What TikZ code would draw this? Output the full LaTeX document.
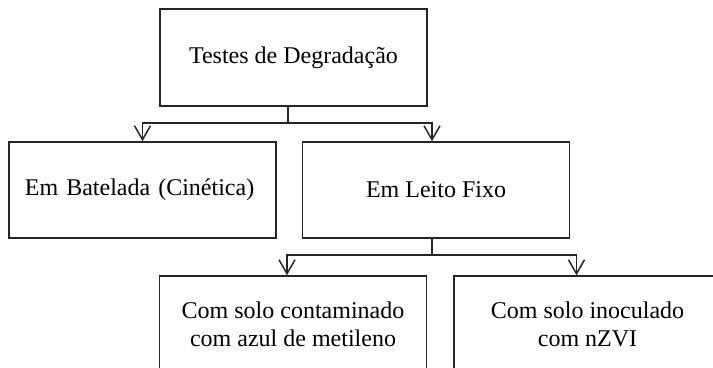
\documentclass[tikz,border=0pt]{standalone}
\usepackage{fontspec}
\setmainfont{Liberation Serif}
\usetikzlibrary{arrows.meta}

\begin{document}
\begin{tikzpicture}[x=0.5pt,y=-0.5pt,
    box/.style={draw=black!85, line width=0.75pt, minimum width=133.5pt, minimum height=48pt,
      font=\fontsize{12pt}{14pt}\selectfont, align=center},
    link/.style={draw=black!85, line width=0.75pt},
    arr/.style={link, -{Straight Barb[length=7pt,width=8pt]}}]
    \clip (0,0) rectangle (713,368);

    \node (tst) [box, minimum height=48.5pt] at (293.5,57.5) {Testes de Degradação};
    \node (bat) [box, text width=117.5pt, inner xsep=8pt, align=left] at (142.5,190) {Em Batelada (Cinética)};
    \node (lf) [box] at (436,190) {Em Leito Fixo};
    \node (sc) [box] at (293,324) {Com solo contaminado\\com azul de metileno};
    \node (si) [box] at (587.5,324) {Com solo inoculado\\com nZVI};

    \coordinate (j1) at (288,123);
    \coordinate (j2) at (432,255);

  \draw [link] (tst.south -| j1) -- (j1);
  \draw [arr] (j1) -| (bat.north);
  \draw [arr] (j1) -| ([xshift=-2pt]lf.north);
  \draw [link] (lf.south -| j2) -- (j2);
  \draw [arr] (j2) -| ([xshift=-3pt]sc.north);
  \draw [arr] (j2) -| ([xshift=-5.5pt]si.north);
\end{tikzpicture}
\end{document}
